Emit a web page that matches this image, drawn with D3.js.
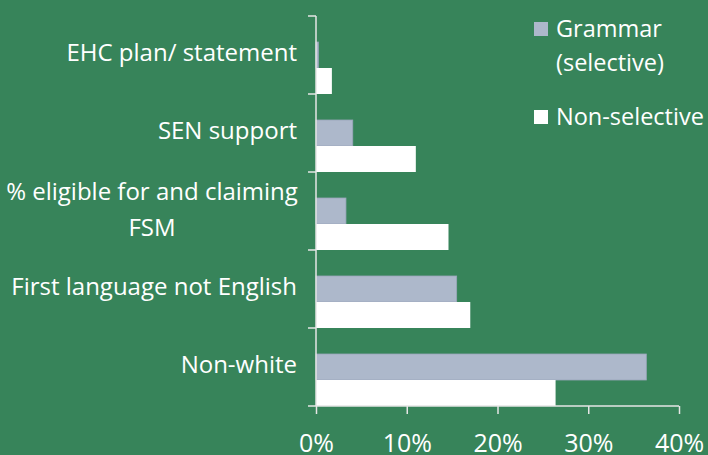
<!DOCTYPE html>
<html>
<head>
<meta charset="utf-8">
<script src="https://cdn.jsdelivr.net/npm/d3@7"></script>
<style>
  body { margin: 0; background: #37845a; }
  text { font-family: "Open Sans", sans-serif; fill: #fff; }
</style>
</head>
<body>
<svg width="708" height="455"></svg>
<script>
var categories = ["EHC plan/ statement", "SEN support", "% eligible for and claiming FSM", "First language not English", "Non-white"];
var grammar = [0.26, 4.05, 3.3, 15.5, 36.4];
var nonSelective = [1.75, 11.0, 14.6, 17.0, 26.4];
var ticks = [0, 10, 20, 30, 40];

var svg = d3.select("svg"),
    margin = { top: 16, right: 29, bottom: 49, left: 316 },
    width = +svg.attr("width") - margin.left - margin.right,
    height = +svg.attr("height") - margin.top - margin.bottom;

// band per category, the two bars sit in the lower two thirds
var y = d3.scaleBand().domain(categories).range([0, height]);
var x = d3.scaleLinear().domain([0, 40]).range([0, width]);

var g = svg.append("g")
    .attr("transform", "translate(" + margin.left + "," + margin.top + ")");

var data = categories.map(function (c, i) {
    return { cat: c, grammar: grammar[i], non: nonSelective[i] };
});

var barH = y.bandwidth() / 3;

g.selectAll(".bar-g")
    .data(data)
    .enter().append("rect")
    .attr("class", "bar-g")
    .attr("x", 0)
    .attr("y", function (d) { return y(d.cat) + barH; })
    .attr("width", function (d) { return x(d.grammar); })
    .attr("height", barH)
    .attr("fill", "#adb8cb")
    .attr("stroke", "#9aa6ba")
    .attr("stroke-width", 0.8);

g.selectAll(".bar-n")
    .data(data)
    .enter().append("rect")
    .attr("class", "bar-n")
    .attr("x", 0)
    .attr("y", function (d) { return y(d.cat) + 2 * barH; })
    .attr("width", function (d) { return x(d.non); })
    .attr("height", barH)
    .attr("fill", "#fff");

// x axis (labels run off the bottom edge, as in the original)
var xAxis = g.append("g")
    .attr("transform", "translate(0," + height + ")")
    .call(d3.axisBottom(x).tickValues(ticks).tickSize(8)
        .tickFormat(function (d) { return d + "%"; }));
xAxis.selectAll("line, path").attr("stroke", "#e6e6e6").attr("stroke-width", 1.5);
xAxis.select(".domain").attr("d", "M0,0H" + width);
xAxis.selectAll("text").attr("font-size", 25).attr("fill", "#fff")
    .attr("y", 46).attr("dy", 0)
    .style("font-family", "'Open Sans', sans-serif");

// y axis: ticks at the band edges
var edges = categories.map(function (c) { return y(c); }).concat([height]);
var yAxis = g.append("g");
yAxis.append("line")
    .attr("x1", 0).attr("x2", 0).attr("y1", 0).attr("y2", height)
    .attr("stroke", "#e6e6e6").attr("stroke-width", 1.5);
yAxis.selectAll(".tk")
    .data(edges)
    .enter().append("line")
    .attr("x1", -8).attr("x2", 0)
    .attr("y1", function (d) { return d; })
    .attr("y2", function (d) { return d; })
    .attr("stroke", "#e6e6e6").attr("stroke-width", 1.5);

// category labels
var lines = {
    "% eligible for and claiming FSM": ["% eligible for and claiming", "FSM"]
};
data.forEach(function (d) {
    var l = lines[d.cat] || [d.cat];
    var cy = y(d.cat) + y.bandwidth() / 2 - 2;
    var lx = l.length > 1 ? -164 : -19;
    var t = g.append("text")
        .attr("text-anchor", l.length > 1 ? "middle" : "end")
        .attr("font-size", 24)
        .attr("x", lx)
        .attr("y", cy - (l.length - 1) * 17);
    l.forEach(function (s, i) {
        t.append("tspan")
            .attr("x", lx)
            .attr("dy", i === 0 ? "0.35em" : 36)
            .text(s);
    });
});

// legend
var legend = svg.append("g");
legend.append("rect").attr("x", 534).attr("y", 22).attr("width", 14).attr("height", 14).attr("fill", "#adb8cb");
legend.append("text").attr("x", 556).attr("y", 37).attr("font-size", 23.5).text("Grammar");
legend.append("text").attr("x", 556).attr("y", 71).attr("font-size", 23.5).text("(selective)");
legend.append("rect").attr("x", 534).attr("y", 110).attr("width", 14).attr("height", 14).attr("fill", "#fff");
legend.append("text").attr("x", 556).attr("y", 125).attr("font-size", 23.5).text("Non-selective");
</script>
</body>
</html>
